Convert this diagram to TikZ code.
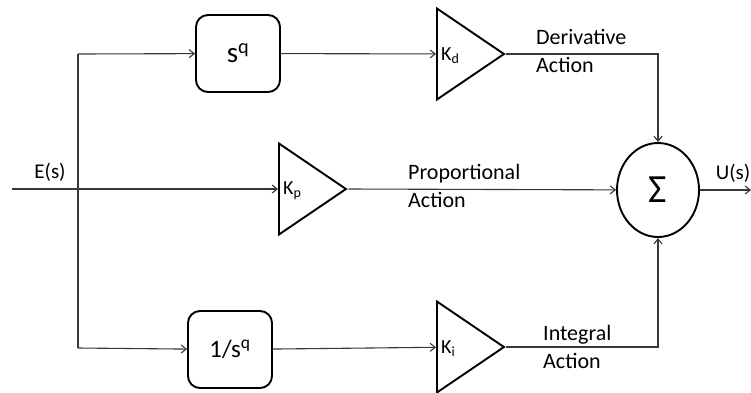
\documentclass[tikz,border=0pt]{standalone}
\usepackage{fontspec}
\setmainfont{Carlito}
\usetikzlibrary{shapes.geometric,arrows.meta}
\begin{document}
\begin{tikzpicture}[x=1pt,y=-1pt,
  wire/.style={draw=black!78, line width=1.1pt},
  sig/.style={wire, -{Straight Barb[length=5pt,width=8pt]}},
  blockbox/.style={draw, line width=1.9pt, rounded corners=12pt,
    minimum width=84pt, minimum height=77pt, inner sep=0pt},
  gain/.style={draw, line width=1.9pt, isosceles triangle,
    isosceles triangle stretches, minimum width=91pt, minimum height=67pt,
    inner sep=0pt, anchor=lower side},
  gainlabel/.style={font=\fontsize{20}{20}\selectfont, anchor=west, inner sep=2pt},
  note/.style={font=\fontsize{22}{28}\selectfont, align=left, anchor=north west, inner sep=0pt},
  sumnode/.style={draw, line width=1.9pt, ellipse, minimum width=82pt, minimum height=94pt,
    inner sep=0pt, font=\fontsize{40}{40}\selectfont}
]
\useasboundingbox (0,0) rectangle (751,392);

% input and branch points
\coordinate (ein) at (12,189);
\coordinate (top) at (78,54);
\coordinate (bot) at (78,348);
\coordinate (uout) at (751,190);

% blocks
\node[blockbox, font=\fontsize{29}{29}\selectfont] (sq) at (238,53.5) {s\textsuperscript{q}};
\node[blockbox, font=\fontsize{25}{25}\selectfont] (isq) at (230,349.5) {1/s\textsuperscript{q}};

% gains
\node[gain] (kd) at (436,54) {};
\node[gain] (kp) at (278,189) {};
\node[gain] (ki) at (436,347) {};
\node[gainlabel] at ([xshift=3pt,yshift=-2pt]kd.lower side) {K\textsubscript{d}};
\node[gainlabel] at ([xshift=3pt,yshift=-2pt]kp.lower side) {K\textsubscript{p}};
\node[gainlabel] at ([xshift=3pt,yshift=-2pt]ki.lower side) {K\textsubscript{i}};

% summing junction
\node[sumnode] (sum) at (658,190) {Σ};

% wiring
\draw[wire] (top) -- (bot);
\draw[sig] (ein) -- (kp);
\draw[sig] (top) -- (sq);
\draw[sig] (bot) -- (isq);
\draw[sig] (sq) -- (kd);
\draw[sig] (isq) -- (ki);
\draw[sig] (kp.apex) -- (sum);
\draw[sig] (kd.apex) -| (sum.north);
\draw[sig] (ki.apex) -| (sum.south);
\draw[sig] (sum) -- (uout);

% signal names
\node[font=\fontsize{21}{21}\selectfont] at (50,172) {E(s)};
\node[font=\fontsize{21}{21}\selectfont] at (733,173) {U(s)};
\node[note] at (536,29) {Derivative\\Action};
\node[note] at (408,164) {Proportional\\Action};
\node[note] at (543,325) {Integral\\Action};
\end{tikzpicture}
\end{document}
